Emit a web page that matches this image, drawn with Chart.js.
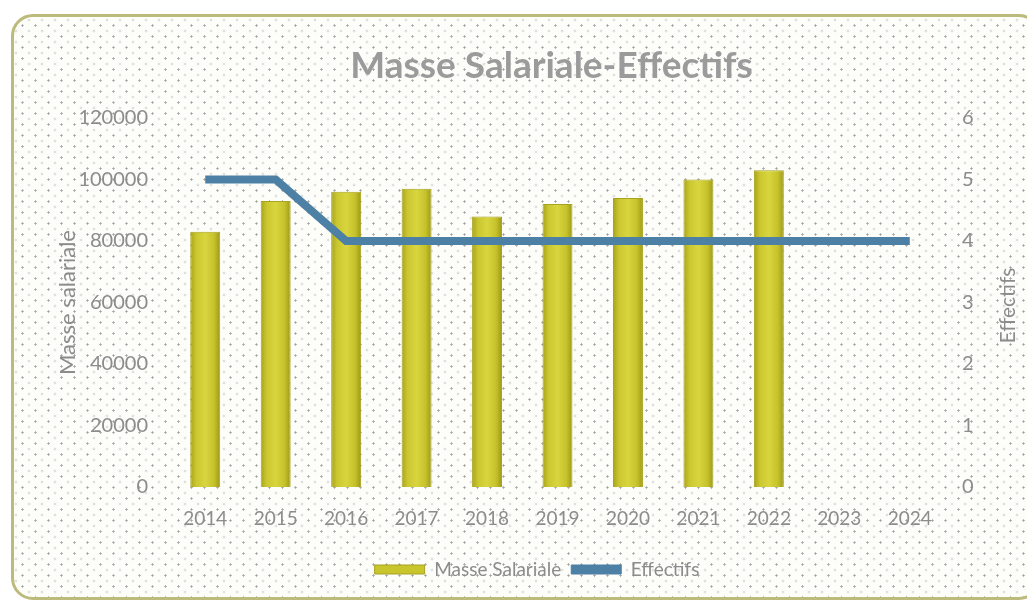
<!DOCTYPE html>
<html>
<head>
<meta charset="utf-8">
<script src="https://cdn.jsdelivr.net/npm/chart.js@4.4.1/dist/chart.umd.min.js"></script>
<style>
  html, body { margin: 0; padding: 0; background: #fff; }
  body { width: 1027px; height: 606px; position: relative; overflow: hidden; }
  #frame {
    position: absolute; left: 11px; top: 14px; width: 1030px; height: 586px;
    border: 3px solid #bdbb7c; border-radius: 22px; box-sizing: border-box;
    background-color: #fdfdfa;
    background-image:
      radial-gradient(circle, #a4a4a4 0.9px, rgba(255,255,255,0) 1.3px),
      radial-gradient(circle, #c2c2c2 0.8px, rgba(255,255,255,0) 1.2px);
    background-size: 13px 11px, 13px 11px;
    background-position: 2px 3px, 8.5px 8.5px;
  }
  #wrap { position: absolute; left: 0; top: 0; width: 1027px; height: 606px; }
</style>
</head>
<body>
<div id="frame"></div>
<div id="wrap"><canvas id="c" width="1027" height="606"></canvas></div>
<script>
const years = ['2014','2015','2016','2017','2018','2019','2020','2021','2022','2023','2024'];
const masseSalariale = [83000, 93000, 96000, 97000, 88000, 92000, 94000, 100000, 103000, null, null];
const effectifs = [5, 5, 4, 4, 4, 4, 4, 4, 4, 4, 4];
const leftTicks = [0, 20000, 40000, 60000, 80000, 100000, 120000];
const rightTicks = [0, 1, 2, 3, 4, 5, 6];
const chartTitle = 'Masse Salariale-Effectifs';

const tickColor = '#8c8c8c';
const fontFam = 'Lato, "Open Sans", sans-serif';
const CAT_PCT = 0.5, BAR_PCT = 0.85;

const textPlugin = {
  id: 'extraText',
  afterDraw(chart) {
    const ctx = chart.ctx;
    const ca = chart.chartArea;
    ctx.save();
    // chart title, centred over the plot area
    ctx.font = 'bold 37px ' + fontFam;
    ctx.fillStyle = '#9b9b9b';
    ctx.textAlign = 'center';
    ctx.textBaseline = 'middle';
    ctx.fillText(chartTitle, (ca.left + ca.right) / 2 - 6, 66);
    // right axis title, reading bottom to top
    ctx.translate(1008, (ca.top + ca.bottom) / 2 + 3);
    ctx.rotate(-Math.PI / 2);
    ctx.font = '21px ' + fontFam;
    ctx.fillStyle = tickColor;
    ctx.fillText('Effectifs', 0, 0);
    ctx.restore();
  }
};

function barGradient(context) {
  const chart = context.chart;
  const xs = chart.scales && chart.scales.x;
  const ca = chart.chartArea;
  if (!xs || !ca || context.dataIndex === undefined) return '#c9c52c';
  const cx = xs.getPixelForValue(context.dataIndex);
  const w = (ca.right - ca.left) / years.length * CAT_PCT * BAR_PCT;
  if (!isFinite(cx) || !isFinite(w)) return '#c9c52c';
  const g = chart.ctx.createLinearGradient(cx - w / 2, 0, cx + w / 2, 0);
  g.addColorStop(0, '#a7a31a');
  g.addColorStop(0.2, '#cbc730');
  g.addColorStop(0.5, '#d9d53e');
  g.addColorStop(0.8, '#c6c22b');
  g.addColorStop(1, '#9c9816');
  return g;
}

new Chart(document.getElementById('c'), {
  data: {
    labels: years,
    datasets: [
      {
        type: 'bar',
        label: 'Masse Salariale',
        data: masseSalariale,
        yAxisID: 'y',
        backgroundColor: barGradient,
        borderColor: '#a8a420',
        borderWidth: 1,
        barPercentage: BAR_PCT,
        categoryPercentage: CAT_PCT,
        order: 2
      },
      {
        type: 'line',
        label: 'Effectifs',
        data: effectifs,
        yAxisID: 'y1',
        borderColor: '#4c80a4',
        backgroundColor: '#4c80a4',
        borderWidth: 8,
        pointRadius: 0,
        tension: 0,
        order: 1
      }
    ]
  },
  options: {
    responsive: false,
    animation: false,
    layout: { padding: { left: 55, right: 8, top: 118, bottom: 17 } },
    plugins: {
      title: { display: false },
      legend: {
        position: 'bottom',
        labels: {
          color: '#8c8c8c',
          font: { family: fontFam, size: 19 },
          boxWidth: 50,
          boxHeight: 9,
          padding: 10,
          sort: (a, b) => a.datasetIndex - b.datasetIndex,
          generateLabels(chart) {
            return [
              { text: 'Masse Salariale', fillStyle: '#c9c52c', strokeStyle: '#a8a420', lineWidth: 1, datasetIndex: 0, fontColor: '#8c8c8c' },
              { text: 'Effectifs', fillStyle: '#4c80a4', strokeStyle: '#4c80a4', lineWidth: 1, datasetIndex: 1, fontColor: '#8c8c8c' }
            ];
          }
        }
      },
      tooltip: { enabled: false }
    },
    scales: {
      x: {
        grid: { display: false, drawTicks: false },
        border: { display: false },
        ticks: { color: tickColor, font: { family: fontFam, size: 19 }, padding: 20, maxRotation: 0 },
        afterFit(s) { s.height = 63; }
      },
      y: {
        position: 'left',
        min: 0, max: 120000,
        afterBuildTicks(s) { s.ticks = leftTicks.map(v => ({ value: v })); },
        grid: { display: false, drawTicks: false },
        border: { display: false },
        ticks: { color: tickColor, font: { family: fontFam, size: 20 }, padding: 22, callback: v => String(v) },
        title: { display: true, text: 'Masse salariale', color: tickColor, font: { family: fontFam, size: 22 }, padding: 0 },
        afterFit(s) { s.width = 115; }
      },
      y1: {
        position: 'right',
        min: 0, max: 6,
        afterBuildTicks(s) { s.ticks = rightTicks.map(v => ({ value: v })); },
        grid: { display: false, drawTicks: false },
        border: { display: false },
        ticks: { color: tickColor, font: { family: fontFam, size: 20 }, padding: 17 },
        afterFit(s) { s.width = 74; }
      }
    }
  },
  plugins: [textPlugin]
});
</script>
</body>
</html>
